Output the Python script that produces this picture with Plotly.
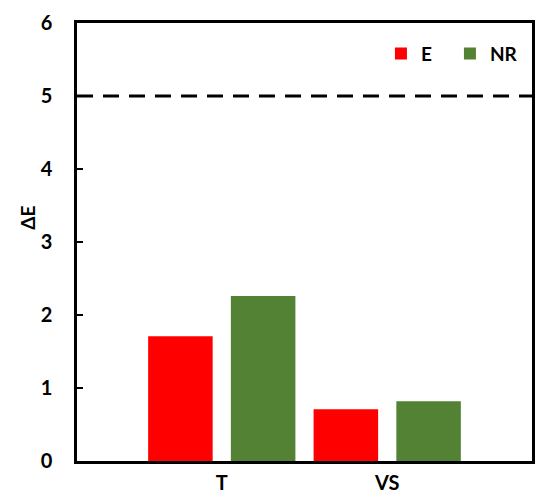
import plotly.graph_objects as go

categories = ["T", "VS"]
series_names = ["E", "NR"]
values_E = [1.71, 0.71]
values_NR = [2.26, 0.82]
colors = ["#ff0000", "#548235"]
threshold = 5
y_ticks = [0, 1, 2, 3, 4, 5, 6]

x_pos = list(range(len(categories)))

fig = go.Figure()
for name, vals, col in zip(series_names, [values_E, values_NR], colors):
    fig.add_trace(go.Bar(x=x_pos, y=vals, name=name, marker=dict(color=col, line=dict(width=0))))

fig.add_shape(type="line", xref="paper", yref="y", x0=0, x1=1, y0=threshold, y1=threshold,
              line=dict(color="black", width=3, dash="16px,10px"))

font_family = "Lato, 'Open Sans', sans-serif"
fig.add_annotation(text="ΔE", xref="paper", yref="y", x=-0.108, y=3.33, textangle=-90,
                   showarrow=False, xanchor="center", yanchor="middle",
                   font=dict(size=19, family=font_family, weight="bold", color="black"))

fig.update_layout(
    width=550, height=500,
    margin=dict(l=69, r=26, t=15, b=47),
    paper_bgcolor="white", plot_bgcolor="white",
    barmode="group", bargap=0, bargroupgap=0.22,
    font=dict(family=font_family, size=16, color="black"),
    showlegend=True,
    legend=dict(orientation="h", x=0.668, y=0.93, xanchor="left", yanchor="middle",
                font=dict(size=19, family=font_family, weight="bold"),
                bgcolor="rgba(0,0,0,0)", itemwidth=30, tracegroupgap=0,
                entrywidth=24, entrywidthmode="pixels"),
    xaxis=dict(range=[-0.875, 1.875], tickmode="array", tickvals=x_pos, ticktext=categories,
               showline=True, linecolor="black", linewidth=2.5, mirror=True, ticks="",
               showgrid=False, zeroline=False, automargin=False, ticklabelstandoff=2,
               tickfont=dict(size=20, family=font_family, weight="bold")),
    yaxis=dict(range=[0, 6], tickmode="array", tickvals=y_ticks,
               showline=True, linecolor="black", linewidth=2.5, mirror=True,
               ticks="inside", ticklen=6, tickwidth=2, tickcolor="black",
               showgrid=False, zeroline=False, automargin=False, ticklabelstandoff=18,
               tickfont=dict(size=20, family=font_family, weight="bold")),
)

fig.write_html("out.html")
